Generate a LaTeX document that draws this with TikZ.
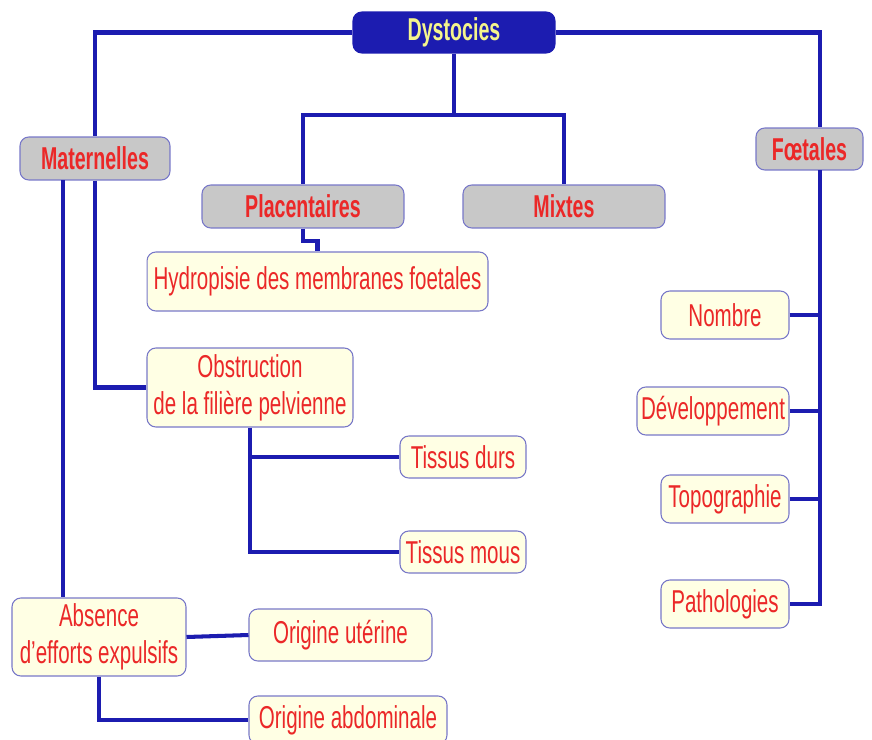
\documentclass[tikz,border=0pt]{standalone}
\usepackage{fontspec}
\setmainfont{Liberation Sans}[FakeStretch=0.65]
\newfontfamily\grpfont{Liberation Sans}[FakeStretch=0.62]
\definecolor{linkblue}{RGB}{28,28,176}
\definecolor{boxline}{RGB}{120,120,200}
\definecolor{boxgray}{RGB}{200,200,200}
\definecolor{boxcream}{RGB}{255,255,228}
\definecolor{txtred}{RGB}{235,40,40}
\definecolor{titleyel}{RGB}{245,245,140}
\begin{document}
\begin{tikzpicture}[x=0.02cm,y=-0.02cm,
  every node/.style={font=\fontsize{18}{21}\selectfont,text=txtred,align=center,
    rounded corners=5pt,draw=boxline,line width=.6pt,inner sep=0pt},
  title/.style={fill=linkblue,draw=linkblue,text=titleyel,font=\fontsize{18}{21}\selectfont\grpfont\bfseries},
  group/.style={fill=boxgray,font=\fontsize{18}{21}\selectfont\grpfont\bfseries},
  leaf/.style={fill=boxcream},
  link/.style={draw=linkblue,line width=2.3pt}]
\useasboundingbox (0,0) rectangle (872,740);
\node[title,minimum width=4.04cm,minimum height=0.82cm] (dys) at (454,32.5) {Dystocies};
\node[group,minimum width=3cm,minimum height=0.86cm] (mat) at (95,158.5) {Maternelles};
\node[group,minimum width=4.04cm,minimum height=0.86cm] (pla) at (303,206.5) {Placentaires};
\node[group,minimum width=4.04cm,minimum height=0.86cm] (mix) at (564,206.5) {Mixtes};
\node[group,minimum width=2.14cm,minimum height=0.84cm] (foe) at (809.5,149) {Fœtales};
\node[leaf,minimum width=6.82cm,minimum height=1.18cm] (hyd) at (317.5,281.5) {Hydropisie des membranes foetales};
\node[leaf,minimum width=4.12cm,minimum height=1.58cm] (obs) at (250,387.5) {Obstruction\\de la filière pelvienne};
\node[leaf,minimum width=2.52cm,minimum height=0.84cm] (dur) at (463,457) {Tissus durs};
\node[leaf,minimum width=2.52cm,minimum height=0.84cm] (mou) at (463,552) {Tissus mous};
\node[leaf,minimum width=3.48cm,minimum height=1.56cm] (abs) at (99,637) {Absence\\d’efforts expulsifs};
\node[leaf,minimum width=3.66cm,minimum height=1.04cm] (ute) at (340.5,635) {Origine utérine};
\node[leaf,minimum width=3.96cm,minimum height=0.96cm] (abd) at (348,720) {Origine abdominale};
\node[leaf,minimum width=2.56cm,minimum height=0.96cm] (nom) at (725,315) {Nombre};
\node[leaf,minimum width=3.04cm,minimum height=0.96cm] (dev) at (713,411) {Développement};
\node[leaf,minimum width=2.56cm,minimum height=0.96cm] (topo) at (725,499) {Topographie};
\node[leaf,minimum width=2.56cm,minimum height=0.96cm] (pat) at (725,604) {Pathologies};
\coordinate (split) at (454,115);
\coordinate (ftrunk) at (820,170);
\coordinate (mleft) at (63,180);
% top level
\draw[link] (dys.west) -| (mat.north);
\draw[link] (dys.east) -| (ftrunk |- foe.north);
\draw[link] (dys.south) -- (split) -| (pla.north);
\draw[link] (split) -| (mix.north);
\draw[link] (pla.south) -- ++(0,12) -| (hyd.north);
% maternelles
\draw[link] (mat.south) |- (obs.west);
\draw[link] (mleft) -- (mleft |- abs.north);
\draw[link] (obs.south) |- (mou.west);
\draw[link] (obs.south |- dur.west) -- (dur.west);
\draw[link] (abs.east) -- (ute.west);
\draw[link] (abs.south) |- (abd.west);
% foetales
\draw[link] (ftrunk) |- (pat.east);
\draw[link] (nom.east) -- (nom.east -| ftrunk);
\draw[link] (dev.east) -- (dev.east -| ftrunk);
\draw[link] (topo.east) -- (topo.east -| ftrunk);
\end{tikzpicture}
\end{document}
